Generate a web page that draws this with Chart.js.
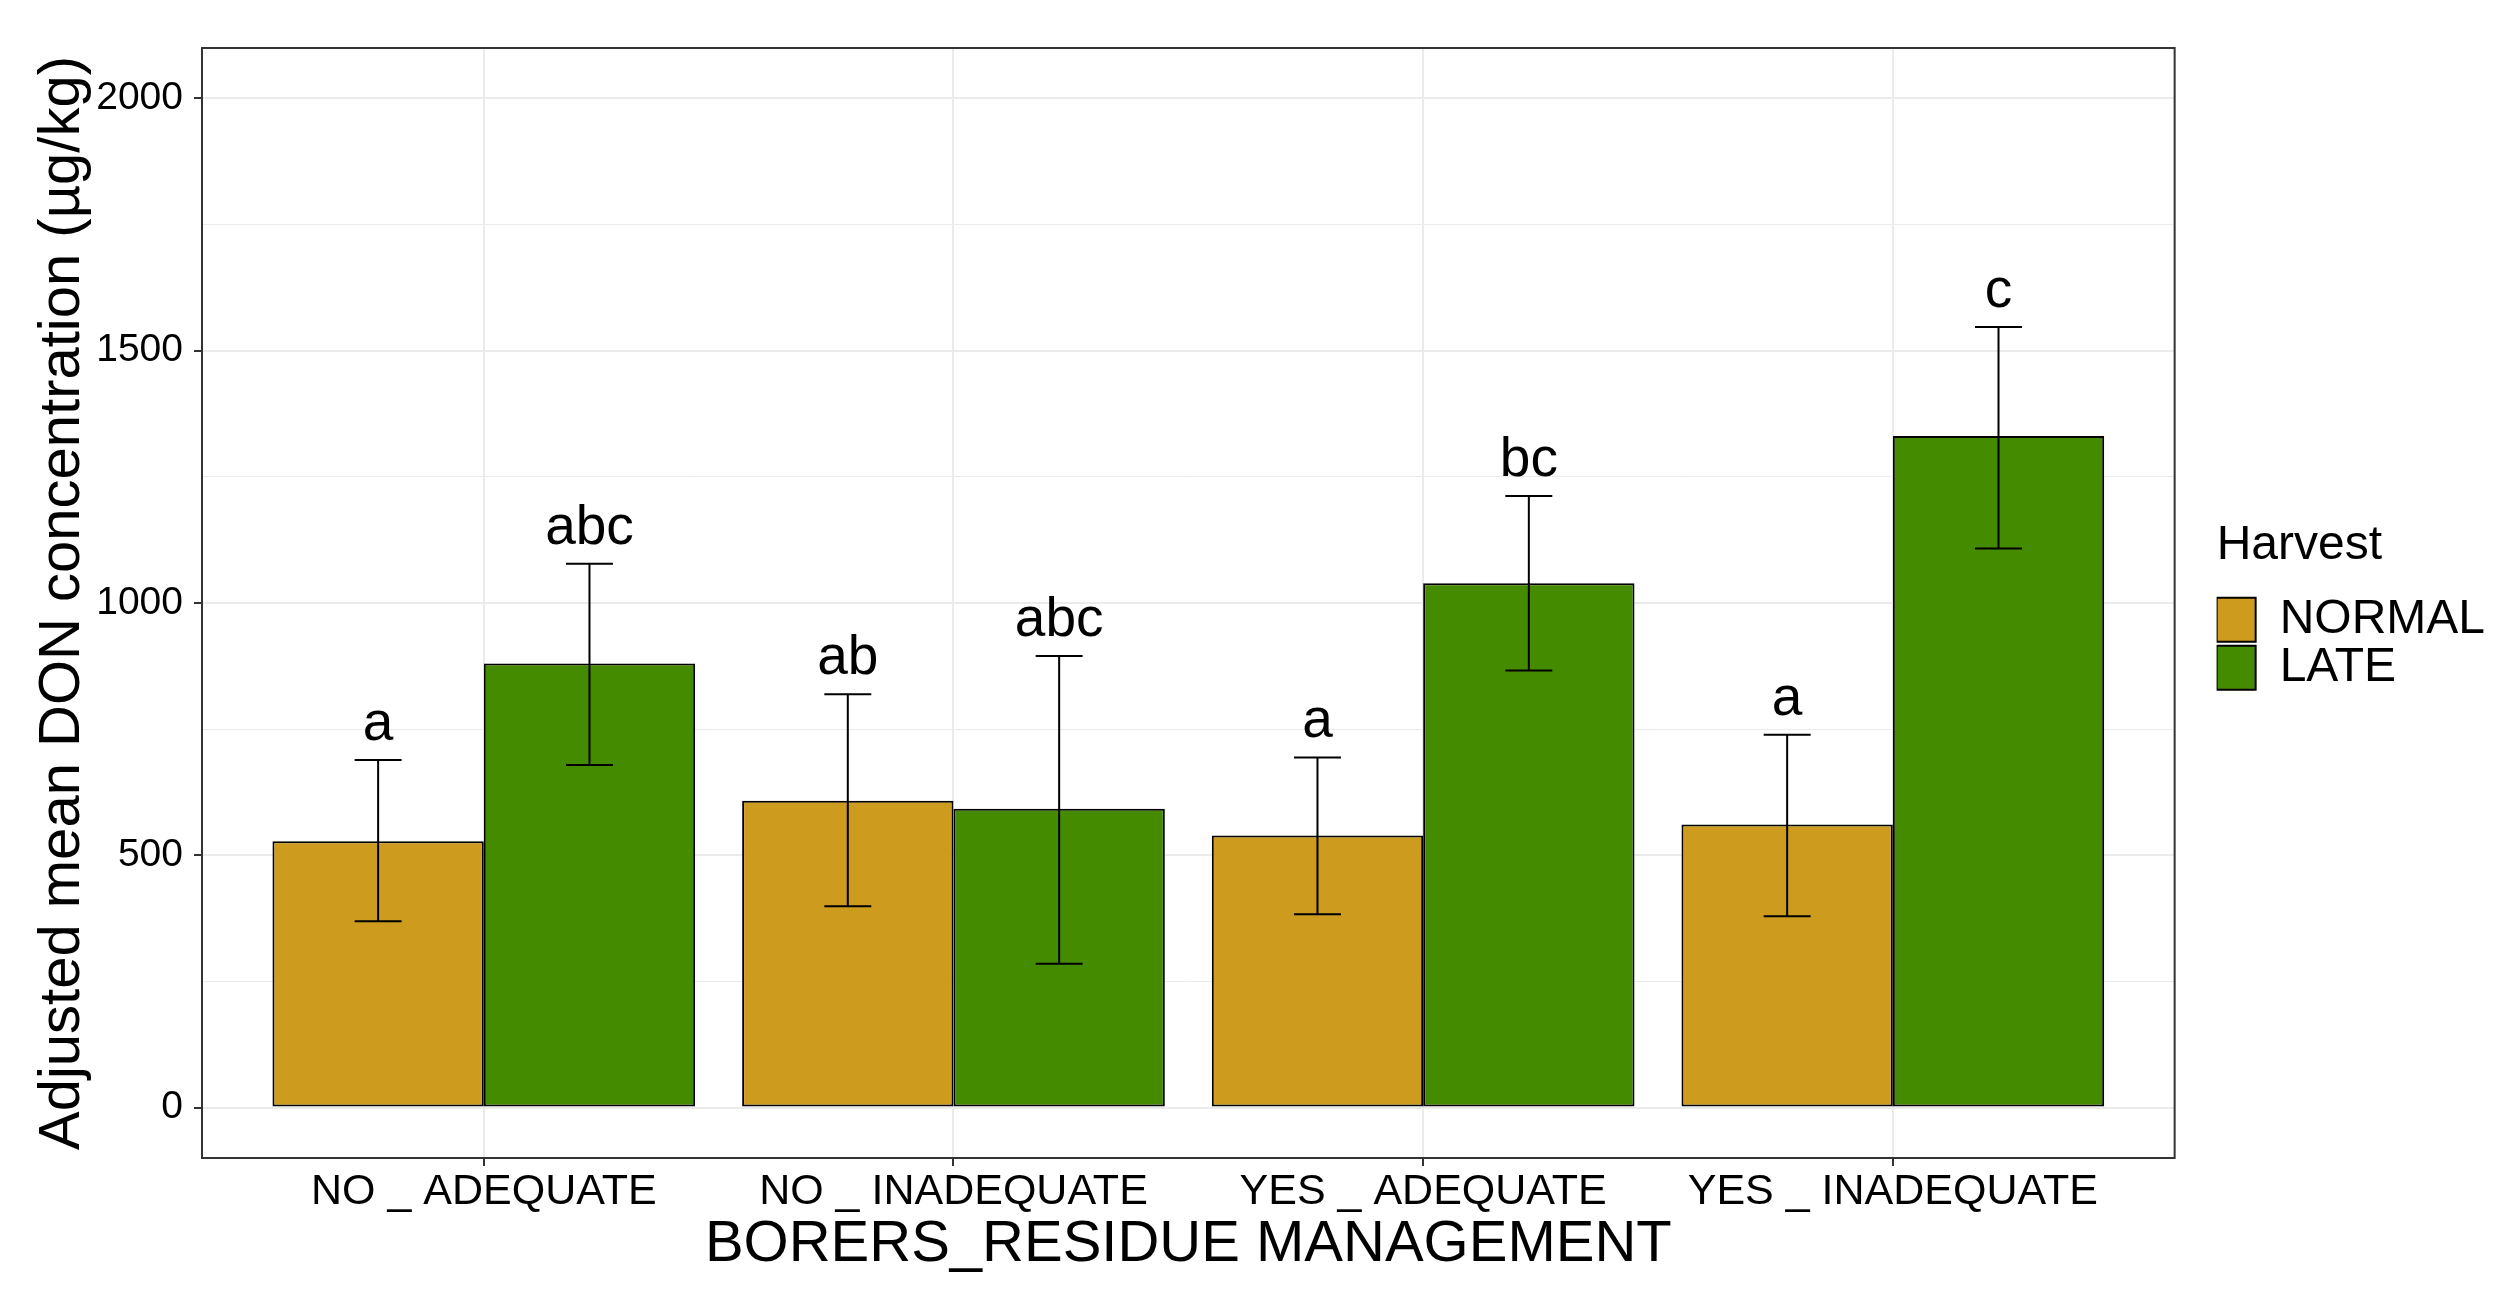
<!DOCTYPE html>
<html>
<head>
<meta charset="utf-8">
<script src="https://cdn.jsdelivr.net/npm/chart.js@4.4.1/dist/chart.umd.min.js"></script>
<style>
  html, body { margin: 0; padding: 0; background: #ffffff; }
  canvas { display: block; }
</style>
</head>
<body>
<canvas id="don-chart" width="2518" height="1306"></canvas>
<script>
// Categories (borers x residue management)
const categories = ['NO _ ADEQUATE', 'NO _ INADEQUATE', 'YES _ ADEQUATE', 'YES _ INADEQUATE'];

// Adjusted mean DON (µg/kg) and error bar limits, per harvest
const normalMean = [528, 608, 539, 561];
const normalLow = [369, 399, 383, 379];
const normalHigh = [689, 819, 694, 739];
const lateMean = [880, 592, 1039, 1331];
const lateLow = [679, 285, 866, 1108];
const lateHigh = [1078, 895, 1212, 1547];

// Significance letters above the error bars
const normalLetters = ['a', 'ab', 'a', 'a'];
const lateLetters = ['abc', 'abc', 'bc', 'c'];

// y axis ticks (major with labels, minor only grid)
const yTicks = [0, 500, 1000, 1500, 2000];
const yMinorTicks = [250, 750, 1250, 1750];

const FONT = '"Liberation Sans", Arial, sans-serif';
const errLow = [normalLow, lateLow];
const errHigh = [normalHigh, lateHigh];
const letters = [normalLetters, lateLetters];

// error bars + letters, drawn through the scales
const errorBarPlugin = {
  id: 'errorBars',
  afterDatasetsDraw(chart) {
    const ctx = chart.ctx;
    const xs = chart.scales.x, ys = chart.scales.y;
    const capHalf = xs.getPixelForValue(1.05) - xs.getPixelForValue(1);
    ctx.save();
    chart.data.datasets.forEach((ds, di) => {
      chart.getDatasetMeta(di).data.forEach((bar, i) => {
        const top = ys.getPixelForValue(errHigh[di][i]);
        const bot = ys.getPixelForValue(errLow[di][i]);
        ctx.strokeStyle = '#000';
        ctx.lineWidth = 2;
        ctx.beginPath();
        ctx.moveTo(bar.x, top); ctx.lineTo(bar.x, bot);
        ctx.moveTo(bar.x - capHalf, top); ctx.lineTo(bar.x + capHalf, top);
        ctx.moveTo(bar.x - capHalf, bot); ctx.lineTo(bar.x + capHalf, bot);
        ctx.stroke();
        ctx.fillStyle = '#000';
        ctx.font = '55px ' + FONT;
        ctx.textAlign = 'center';
        ctx.textBaseline = 'alphabetic';
        ctx.fillText(letters[di][i], bar.x, top - 20);
      });
    });
    ctx.restore();
  }
};

// panel border like ggplot theme_bw
const panelBorder = {
  id: 'panelBorder',
  afterDraw(chart) {
    const a = chart.chartArea, ctx = chart.ctx;
    ctx.save();
    ctx.strokeStyle = '#333333';
    ctx.lineWidth = 2;
    ctx.strokeRect(a.left, a.top, a.right - a.left, a.bottom - a.top);
    ctx.restore();
  }
};

new Chart(document.getElementById('don-chart'), {
  type: 'bar',
  data: {
    datasets: [
      {
        label: 'NORMAL',
        data: normalMean.map((v, i) => ({ x: i + 1, y: v })),
        backgroundColor: '#CD9B1D',
        borderColor: '#000000',
        borderWidth: 2,
        borderSkipped: false
      },
      {
        label: 'LATE',
        data: lateMean.map((v, i) => ({ x: i + 1, y: v })),
        backgroundColor: '#458B00',
        borderColor: '#000000',
        borderWidth: 2,
        borderSkipped: false
      }
    ]
  },
  options: {
    responsive: false,
    animation: false,
    devicePixelRatio: 1,
    events: [],
    categoryPercentage: 0.9,
    barPercentage: 1.0,
    layout: { padding: { top: 48, right: 23, bottom: 0, left: 0 } },
    plugins: {
      tooltip: { enabled: false },
      legend: {
        position: 'right',
        fullSize: false,
        align: 'center',
        title: {
          display: true,
          text: 'Harvest',
          position: 'start',
          color: '#000',
          font: { family: FONT, size: 48 },
          padding: { top: 8, bottom: 16 }
        },
        labels: {
          boxWidth: 39,
          boxHeight: 44,
          padding: 0,
          color: '#000',
          font: { family: FONT, size: 48 }
        }
      }
    },
    scales: {
      x: {
        type: 'linear',
        min: 0.4,
        max: 4.6,
        offset: false,
        afterBuildTicks: s => { s.ticks = categories.map((c, i) => ({ value: i + 1 })); },
        afterFit: s => { s.height = 148; },
        grid: {
          offset: false,
          color: '#EBEBEB',
          lineWidth: 2,
          tickLength: 8,
          tickColor: '#333333',
          tickWidth: 2
        },
        border: { display: false },
        ticks: {
          autoSkip: false,
          maxRotation: 0,
          padding: 0,
          color: '#000',
          font: { family: FONT, size: 43 },
          callback: v => categories[Math.round(v) - 1]
        },
        title: {
          display: true,
          text: 'BORERS_RESIDUE MANAGEMENT',
          color: '#000',
          font: { family: FONT, size: 58 },
          padding: { top: 0, bottom: 26 }
        }
      },
      y: {
        min: -100,
        max: 2100,
        afterBuildTicks: s => {
          s.ticks = yTicks.concat(yMinorTicks).sort((a, b) => a - b).map(v => ({ value: v }));
        },
        afterFit: s => { s.width = 202; },
        grid: {
          color: '#EBEBEB',
          lineWidth: c => (yTicks.includes(c.tick.value) ? 2 : 1),
          tickLength: 8,
          tickColor: c => (yTicks.includes(c.tick.value) ? '#333333' : 'rgba(0,0,0,0)'),
          tickWidth: 2
        },
        border: { display: false },
        ticks: {
          padding: 11,
          color: '#000',
          font: { family: FONT, size: 39 },
          callback: v => (yTicks.includes(v) ? String(v) : '')
        },
        title: {
          display: true,
          text: 'Adjusted mean DON concentration (µg/kg)',
          color: '#000',
          font: { family: FONT, size: 58 },
          padding: { top: 28, bottom: 0 }
        }
      },
      gap: {
        type: 'linear',
        position: 'right',
        display: true,
        grid: { display: false, drawTicks: false },
        border: { display: false },
        ticks: { display: false },
        afterFit: s => { s.width = 42; }
      }
    }
  },
  plugins: [errorBarPlugin, panelBorder]
});
</script>
</body>
</html>
